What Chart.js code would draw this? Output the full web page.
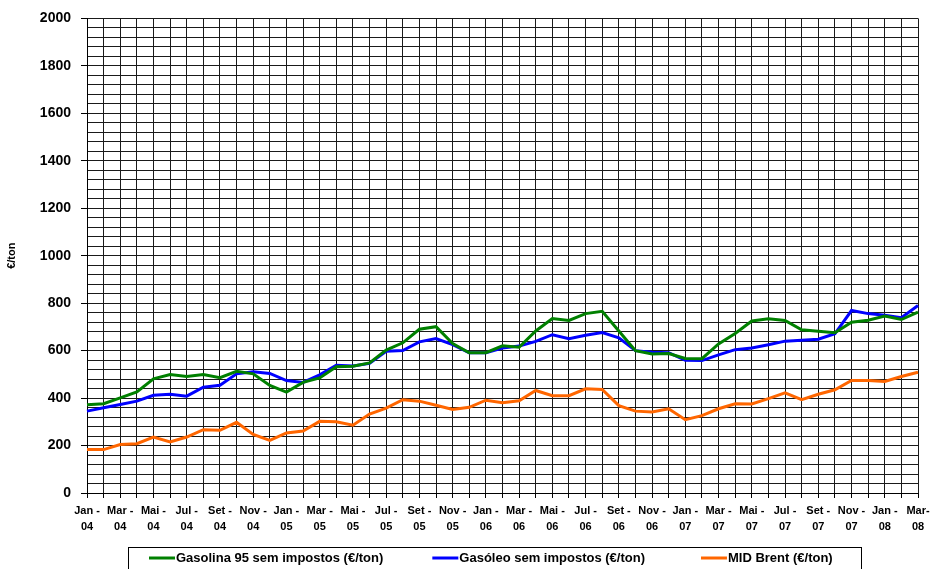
<!DOCTYPE html>
<html>
<head>
<meta charset="utf-8">
<script src="https://cdn.jsdelivr.net/npm/chart.js@4"></script>
<style>
  body { margin: 0; background: #fff; }
  #wrap { width: 930px; height: 569px; }
</style>
</head>
<body>
<div id="wrap"><canvas id="myChart" width="930" height="569"></canvas></div>
<script>
const months = ['Jan','Fev','Mar','Abr','Mai','Jun','Jul','Ago','Set','Out','Nov','Dez']
const years = ['04','05','06','07','08']

const gasolina = [372,376,401,426,481,499,491,499,486,513,502,453,
                  425,466,485,532,534,548,602,633,690,701,630,591,
                  591,620,614,683,735,727,756,766,683,600,586,588,
                  567,566,628,672,725,734,727,688,682,675,720,728,
                  746,731,762]
const gasoleo = [345,359,373,387,412,416,408,446,454,502,511,504,
                 474,466,498,538,535,546,597,600,637,651,625,591,
                 591,611,619,639,667,650,665,676,654,600,593,591,
                 559,558,582,604,611,625,640,644,648,671,769,756,
                 749,739,790]
const brent = [183,183,204,208,236,215,236,267,264,298,247,222,
               253,261,302,300,286,333,358,393,387,370,352,361,
               391,380,389,432,410,410,439,436,368,345,341,355,
               309,326,355,376,375,398,422,393,416,435,474,474,
               470,491,509]

const seriesNames = ['Gasolina 95 sem impostos (€/ton)', 'Gasóleo sem impostos (€/ton)', 'MID Brent (€/ton)']

// monthly labels Jan-04 .. Mar-08
const labels = []
for (let i = 0; i < gasolina.length; i++) {
  labels.push(months[i % 12] + '-' + years[Math.floor(i / 12)])
}

const FONT = '"Liberation Sans", Arial, sans-serif'

// Excel style legend: box with line + text for each series
const boxLegend = {
  id: 'boxLegend',
  afterDraw(chart) {
    const ctx = chart.ctx
    const top = 547, h = 22
    const left = 128, right = 861
    const gaps = [49, 56, 0]
    ctx.save()
    ctx.strokeStyle = '#000'
    ctx.lineWidth = 1
    ctx.strokeRect(left + 0.5, top + 0.5, right - left, h)
    ctx.font = 'bold 13px ' + FONT
    ctx.textBaseline = 'middle'
    let x = left + 21
    const y = top + h / 2
    chart.data.datasets.forEach((ds, i) => {
      ctx.strokeStyle = ds.borderColor
      ctx.lineWidth = 3
      ctx.beginPath()
      ctx.moveTo(x, y)
      ctx.lineTo(x + 26, y)
      ctx.stroke()
      ctx.fillStyle = '#000'
      ctx.fillText(ds.label, x + 27, y + 0.5)
      x += 27 + ctx.measureText(ds.label).width + gaps[i]
    })
    ctx.restore()
  }
}

function createChart() {
  const ctx = document.getElementById('myChart')
  new Chart(ctx, {
    type: 'line',
    data: {
      labels: labels,
      datasets: [{
        label: seriesNames[0],
        data: gasolina,
        borderColor: '#008000',
        borderWidth: 3
      }, {
        label: seriesNames[1],
        data: gasoleo,
        borderColor: '#0000FF',
        borderWidth: 3
      }, {
        label: seriesNames[2],
        data: brent,
        borderColor: '#FF6600',
        borderWidth: 3
      }]
    },
    plugins: [boxLegend],
    options: {
      responsive: false,
      animation: false,
      devicePixelRatio: 1,
      elements: { point: { radius: 0 }, line: { tension: 0 } },
      layout: { padding: { top: 16, right: 12, bottom: 34, left: 0 } },
      plugins: {
        legend: { display: false },
        tooltip: { enabled: false }
      },
      scales: {
        x: {
          afterFit: (scale) => {
            scale.height = 42
            scale.paddingLeft = 0
            scale.paddingRight = 0
          },
          border: { color: '#000', width: 1 },
          grid: { color: '#1a1a1a', lineWidth: 1, tickLength: 5, tickColor: '#000' },
          ticks: {
            autoSkip: false,
            maxRotation: 0,
            padding: 5,
            color: '#000',
            font: { family: FONT, size: 11, weight: 'bold', lineHeight: 1.45 },
            callback: function (value, index) {
              if (index % 2 !== 0) return ''
              const parts = labels[index].split('-')
              const sep = index === labels.length - 1 ? '-' : ' -'
              return [parts[0] + sep, parts[1]]
            }
          }
        },
        y: {
          min: 0,
          max: 2000,
          afterFit: (scale) => { scale.width = 87 },
          border: { color: '#000', width: 1 },
          grid: {
            color: '#1a1a1a',
            lineWidth: 1,
            tickLength: 6,
            tickColor: (c) => (c.tick && c.tick.value % 200 === 0) ? '#000' : 'rgba(0,0,0,0)'
          },
          ticks: {
            stepSize: 40,
            autoSkip: false,
            padding: 10,
            color: '#000',
            font: { family: FONT, size: 14, weight: 'bold' },
            callback: (v) => v % 200 === 0 ? v : ''
          },
          title: {
            display: true,
            text: '€/ton',
            color: '#000',
            padding: { top: 5, bottom: 0 },
            font: { family: FONT, size: 11, weight: 'bold' }
          }
        }
      }
    }
  })
}

createChart()
</script>
</body>
</html>
